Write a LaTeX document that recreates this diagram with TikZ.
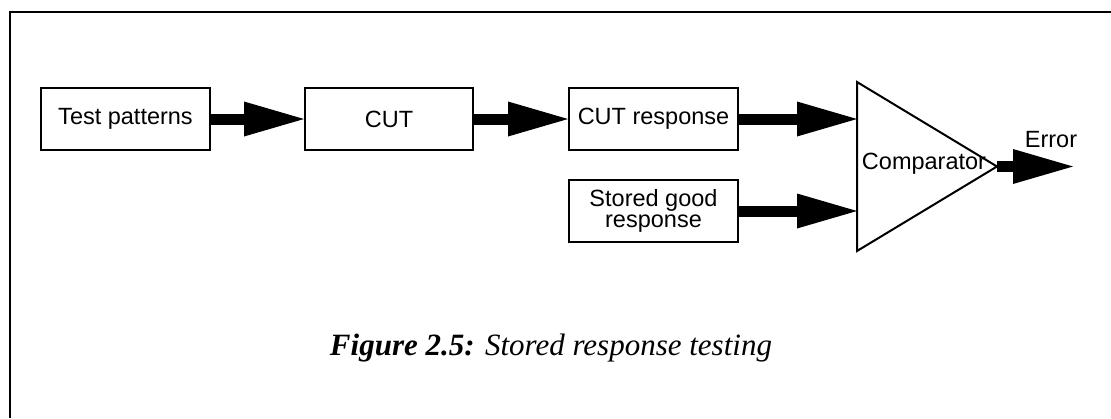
\documentclass[tikz,border=0pt]{standalone}
\usepackage{fontspec}
\setmainfont{Liberation Serif}
\newfontfamily\labelfont{Liberation Sans}
\usetikzlibrary{arrows.meta}
\tikzset{
  blk/.style={draw, line width=2pt, minimum height=62pt, inner sep=0pt,
    font=\labelfont\fontsize{23.5}{21.5}\selectfont, align=center},
  bigarrow/.style={line width=11pt, -{Triangle[length=60pt,width=35pt,line width=0pt]}},
  frameline/.style={line width=2pt},
  txt/.style={font=\labelfont\fontsize{23.5}{20}\selectfont, inner sep=0pt}
}
\begin{document}
\begin{tikzpicture}[x=1pt,y=-1pt]
\useasboundingbox (0,0) rectangle (1111,418);
% frame
\draw[frameline] (1111,12) -- (9.5,12) -- (9.5,418);
% blocks
\node[blk, minimum width=169pt] (tp) at (125.5,119) {Test patterns};
\node[blk, minimum width=168pt] (cut) at (389,119) {CUT};
\node[blk, minimum width=169pt] (cr) at (653.5,119) {CUT response};
\node[blk, minimum width=169pt] (sg) at (653.5,211) {Stored good\\response};
% comparator
\coordinate (ctop) at (857,82);
\coordinate (cbot) at (857,251);
\coordinate (cout) at (997,166.5);
\coordinate (in1) at (857,119);
\coordinate (in2) at (857,211);
\coordinate (errend) at (1073,166.5);
\draw[line width=2pt, line join=miter] (ctop) -- (cbot) -- (cout) -- cycle;
\node[txt] (cmp) at (924,164) {Comparator};
\node[txt] (err) at (1051,140) {Error};
% arrows
\draw[bigarrow] (tp.east) -- (cut.west);
\draw[bigarrow] (cut.east) -- (cr.west);
\draw[bigarrow] (cr.east) -- (in1);
\draw[bigarrow] (sg.east) -- (in2);
\draw[bigarrow] (cout) -- (errend);
% caption
\node[anchor=base, inner sep=0pt, font=\fontsize{31}{36}\selectfont] (cap) at (551,355)
  {\textbf{\textit{Figure 2.5:}} \textit{Stored response testing}};
\end{tikzpicture}
\end{document}
